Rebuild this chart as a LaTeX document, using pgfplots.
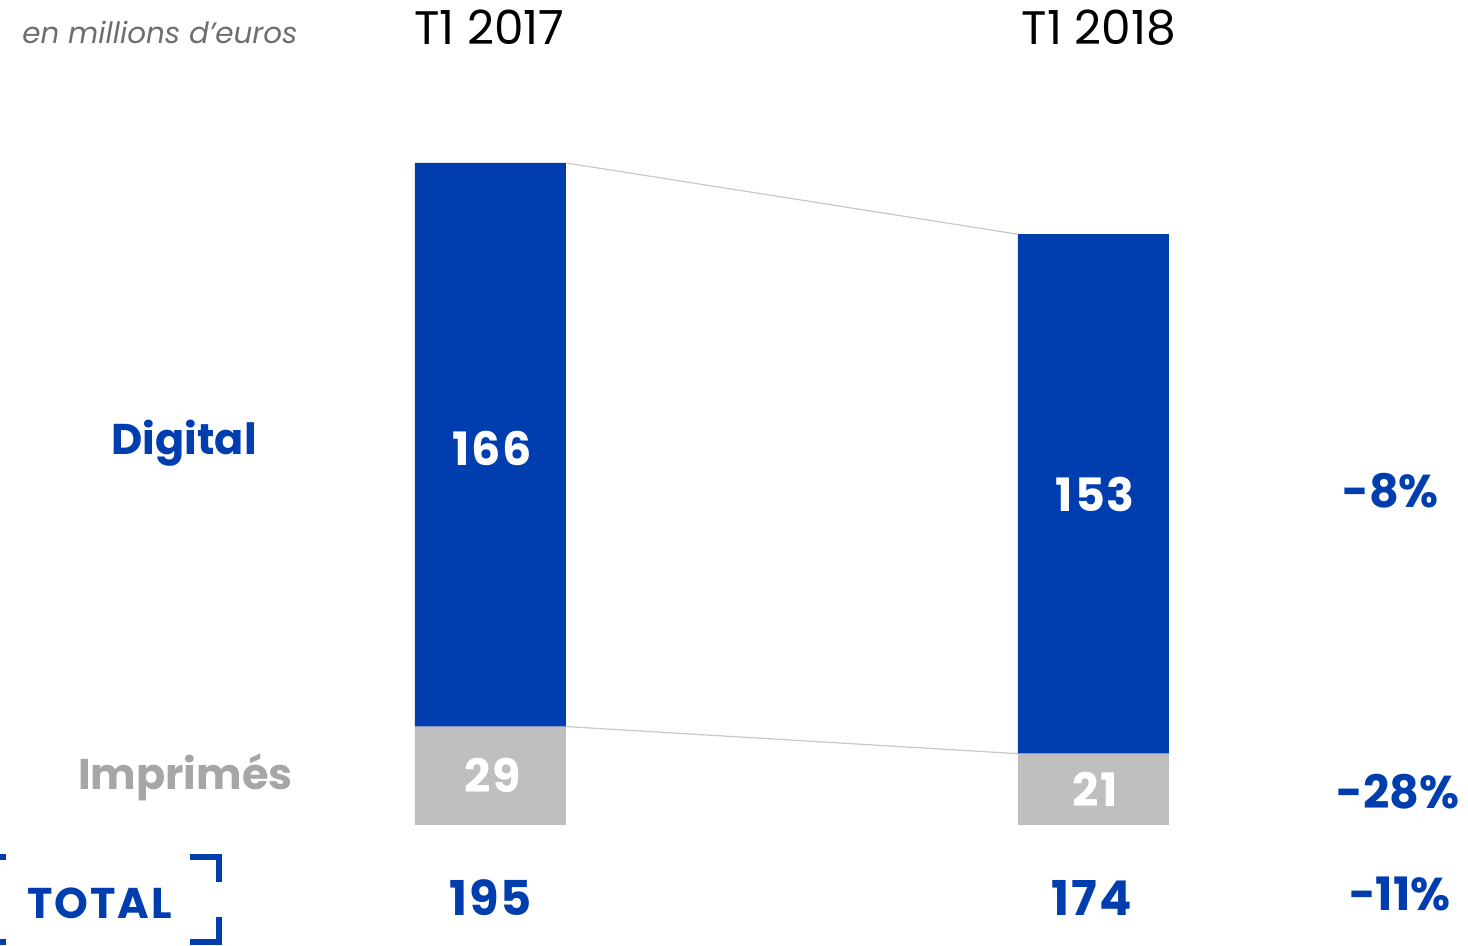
\documentclass[border=0pt]{standalone}
\usepackage{pgfplots}
\pgfplotsset{compat=1.18}
\usepackage{fontspec}
\setmainfont{Poppins}
\newfontfamily\numfont[LetterSpace=4]{Poppins}
\definecolor{cblue}{RGB}{0,61,174}
\definecolor{cbar}{RGB}{191,191,191}
\definecolor{ctxt}{RGB}{166,166,166}
\definecolor{cline}{RGB}{200,200,200}
\definecolor{citl}{RGB}{110,110,110}
\begin{document}
\begin{tikzpicture}
\pgfplotsset{base/.style={
  width=734pt, height=472.5pt, scale only axis,
  xmin=-0.8134, xmax=1.6211, ymin=-35.35, ymax=243.0,
  axis lines=none, ticks=none, clip=false}}
\begin{axis}[base, name=ax, ybar stacked, bar width=0.2504]
\addplot[fill=cbar, draw=none] coordinates {(0,29) (1,21)};
\addplot[fill=cblue, draw=none] coordinates {(0,166) (1,153)};
\end{axis}
\begin{axis}[base]
\addplot[cline, line width=0.6pt] coordinates {(0.1252,195) (0.8748,174)};
\addplot[cline, line width=0.6pt] coordinates {(0.1252,29) (0.8748,21)};
% bar labels
\node[text=white, font=\numfont\fontsize{23}{24}\selectfont\bfseries] at (axis cs:0.003,111) {166};
\node[text=white, font=\numfont\fontsize{23}{24}\selectfont\bfseries] at (axis cs:1.003,97.5) {153};
\node[text=white, font=\numfont\fontsize{23}{24}\selectfont\bfseries] at (axis cs:0.003,14.5) {29};
\node[text=white, font=\numfont\fontsize{23}{24}\selectfont\bfseries] at (axis cs:1.003,10.5) {21};
% headers
\node[anchor=base west, text=citl, font=\fontsize{14.7}{18}\selectfont\itshape, inner sep=0pt] at (axis cs:-0.777,230.3) {en millions d’euros};
\node[anchor=base, font=\fontsize{23.5}{26}\selectfont, inner sep=0pt] at (axis cs:-0.002,229.9) {T1 2017};
\node[anchor=base, font=\fontsize{23.5}{26}\selectfont, inner sep=0pt] at (axis cs:1.009,229.9) {T1 2018};
% row labels
\node[anchor=base, text=cblue, font=\fontsize{21.5}{24}\selectfont\bfseries, inner sep=0pt] at (axis cs:-0.508,109.0) {Digital};
\node[anchor=base, text=ctxt, font=\fontsize{21.5}{24}\selectfont\bfseries, inner sep=0pt] at (axis cs:-0.506,10.6) {Imprimés};
\node[anchor=base, text=cblue, font=\numfont\fontsize{21.5}{24}\selectfont\bfseries, inner sep=0pt] at (axis cs:-0.648,-27.4) {TOTAL};
% totals
\node[anchor=base, text=cblue, font=\numfont\fontsize{24}{26}\selectfont\bfseries, inner sep=0pt] at (axis cs:0.0,-26.8) {195};
\node[anchor=base, text=cblue, font=\numfont\fontsize{24}{26}\selectfont\bfseries, inner sep=0pt] at (axis cs:0.997,-26.8) {174};
% changes
\node[anchor=base, text=cblue, font=\fontsize{23}{26}\selectfont\bfseries, inner sep=0pt] at (axis cs:1.493,93.4) {-8\%};
\node[anchor=base, text=cblue, font=\fontsize{23}{26}\selectfont\bfseries, inner sep=0pt] at (axis cs:1.505,5.0) {-28\%};
\node[anchor=base, text=cblue, font=\fontsize{23}{26}\selectfont\bfseries, inner sep=0pt] at (axis cs:1.508,-25.3) {-11\%};
% bracket
\draw[cblue, line width=2.8pt] (axis cs:-0.4984,-9.43) -- (axis cs:-0.4502,-9.43) -- (axis cs:-0.4502,-16.79);
\draw[cblue, line width=2.8pt] (axis cs:-0.4502,-27.1) -- (axis cs:-0.4502,-34.46) -- (axis cs:-0.4984,-34.46);
\draw[cblue, line width=2.8pt] (axis cs:-0.8035,-9.43) -- (axis cs:-0.83,-9.43) -- (axis cs:-0.83,-16.79);
\draw[cblue, line width=2.8pt] (axis cs:-0.83,-27.1) -- (axis cs:-0.83,-34.46) -- (axis cs:-0.8035,-34.46);
\end{axis}
\pgfresetboundingbox
\useasboundingbox (ax.south west) rectangle (ax.north east);
\end{tikzpicture}
\end{document}
